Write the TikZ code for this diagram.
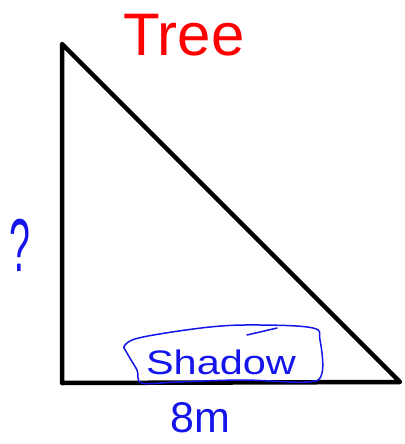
\documentclass[tikz,border=0pt]{standalone}
\usepackage{fontspec}
\setmainfont{Liberation Sans}
\definecolor{inkblue}{RGB}{20,20,235}
\tikzset{
  ink/.style={text=inkblue, inner sep=0pt, anchor=base},
  side/.style={line width=4.5pt, line cap=round, line join=round}
}
\begin{document}
\begin{tikzpicture}[x=1pt,y=-1pt]
\useasboundingbox (0,0) rectangle (404,444);

% the triangle
\coordinate (top) at (62,44);
\coordinate (corner) at (62,383);
\coordinate (tip) at (400,382);
\draw[side] (top) -- (corner) -- (tip) -- cycle;

\node[anchor=base, inner sep=0pt, text=red] (tree) at (184,56) {\fontsize{60}{70}\selectfont Tree};
\node[ink, xscale=0.5] (height) at (20,271) {\fontsize{75}{80}\selectfont ?};
\node[ink, xscale=1.22] (shadow) at (221,374) {\fontsize{34}{40}\selectfont Shadow};
\node[ink] (length) at (200,432) {\fontsize{43}{50}\selectfont 8m};

% scribble round the shadow label
\draw[inkblue, line width=1.5pt] plot[smooth cycle, tension=0.6] coordinates {
  (125,345) (143,337) (210,327) (260,325) (313,328) (320,340) (322,373)
  (307,382) (243,380) (177,382) (142,383) (137,370) (127,353)};
\draw[inkblue, line width=1.5pt, line cap=round] (247,335) -- (277,328);
\end{tikzpicture}
\end{document}
